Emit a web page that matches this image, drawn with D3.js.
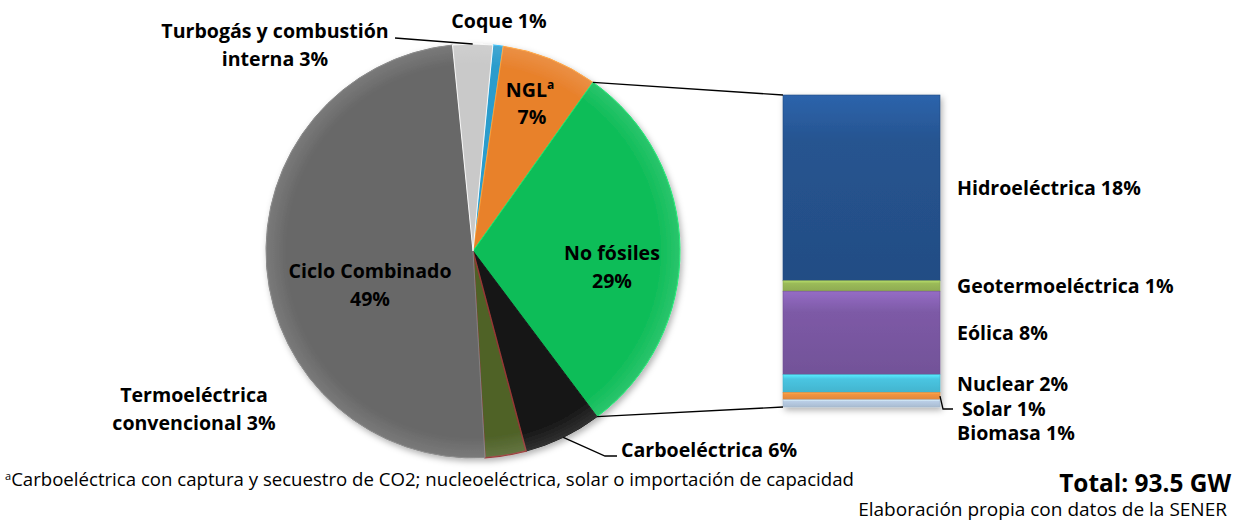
<!DOCTYPE html>
<html>
<head>
<meta charset="utf-8">
<script src="https://cdn.jsdelivr.net/npm/d3@7"></script>
<style>
  body { margin: 0; background: #fff; }
  text { font-family: "Open Sans", Lato, sans-serif; fill: #000; }
  .lbl { font-weight: bold; font-size: 19px; }
</style>
</head>
<body>
<svg id="chart" width="1243" height="525"></svg>
<script>
// Pie slices, clockwise starting at Coque
const pieNames = ['Coque', 'NGL', 'No fósiles', 'Carboeléctrica', 'Termoeléctrica convencional', 'Ciclo Combinado', 'Turbogás y combustión interna'];
const pieValues = [0.8, 7.5, 29.9, 6.1, 3.2, 49.3, 3.1];
const pieLabels = ['1%', '7%', '29%', '6%', '3%', '49%', '3%'];
const pieColors = ['#2b9ccc', '#e8812c', '#0fbd59', '#141414', '#4f6228', '#686868', '#c9c9c9'];

// Breakdown of "No fósiles"
const barNames = ['Hidroeléctrica', 'Geotermoeléctrica', 'Eólica', 'Nuclear', 'Solar', 'Biomasa'];
const barValues = [17.8, 1.0, 8.0, 1.7, 0.7, 0.7];
const barLabels = ['18%', '1%', '8%', '2%', '1%', '1%'];
const barColors = ['#265490', '#9bbb59', '#7d5aa6', '#49c5e1', '#f39442', '#b9cde5'];

const svg = d3.select('#chart');
const defs = svg.append('defs');

// scale a font size so that a sample string gets the width seen in the picture
function fitSize(sample, weight, width) {
  const probe = svg.append('text').style('font-size', '100px').style('font-weight', weight).text(sample);
  const w = probe.node().getComputedTextLength();
  probe.remove();
  return (100 * width) / w;
}
const labelSize = fitSize('Hidroeléctrica 18%', 'bold', 184);
svg.append('style').text(`.lbl { font-size: ${labelSize.toFixed(2)}px; }`);

const shadow = defs.append('filter').attr('id', 'shadow')
  .attr('x', '-10%').attr('y', '-10%').attr('width', '120%').attr('height', '120%');
shadow.append('feDropShadow')
  .attr('dx', 2).attr('dy', 3).attr('stdDeviation', 3)
  .attr('flood-color', '#000').attr('flood-opacity', 0.3);

// Pie
const cx = 473;
const cy = 251;
const radius = 207;
const start = (5.5 * Math.PI) / 180;

const pie = d3.pie().value((d) => d).sort(null)
  .startAngle(start).endAngle(start + 2 * Math.PI);
const arcs = pie(pieValues);
const arc = d3.arc().innerRadius(0).outerRadius(radius);

const pieG = svg.append('g')
  .attr('transform', `translate(${cx},${cy})`)
  .attr('filter', 'url(#shadow)');

pieG.selectAll('path')
  .data(arcs)
  .enter()
  .append('path')
  .attr('d', arc)
  .attr('fill', (d, i) => pieColors[i])
  .attr('stroke', (d, i) => (i === 4 ? '#953735' : d3.color(pieColors[i]).brighter(0.6)))
  .attr('stroke-width', (d, i) => (i === 4 ? 1.5 : 1));

// soft highlight on the pie rim
const glow = defs.append('radialGradient').attr('id', 'glow')
  .attr('cx', '50%').attr('cy', '50%').attr('r', '50%');
glow.append('stop').attr('offset', '0.9').attr('stop-color', '#fff').attr('stop-opacity', 0);
glow.append('stop').attr('offset', '1').attr('stop-color', '#fff').attr('stop-opacity', 0.12);
pieG.append('circle').attr('r', radius).attr('fill', 'url(#glow)');

const edge = (a) => [cx + radius * Math.sin(a), cy - radius * Math.cos(a)];

// Bar
const barX = 783;
const barW = 157;
const y = d3.scaleLinear()
  .domain([0, d3.sum(barValues)])
  .range([95, 407]);
const stacked = barValues.map((v, i) => ({
  name: barNames[i],
  y0: d3.sum(barValues.slice(0, i)),
  y1: d3.sum(barValues.slice(0, i + 1)),
}));

barColors.forEach((c, i) => {
  const g = defs.append('linearGradient').attr('id', `bg${i}`)
    .attr('x1', 0).attr('y1', 0).attr('x2', 0).attr('y2', 1);
  g.append('stop').attr('offset', 0).attr('stop-color', d3.color(c).brighter(0.5));
  g.append('stop').attr('offset', 0.25).attr('stop-color', c);
  g.append('stop').attr('offset', 1).attr('stop-color', d3.color(c).darker(0.25));
});

const barG = svg.append('g').attr('filter', 'url(#shadow)');
barG.selectAll('rect')
  .data(stacked)
  .enter()
  .append('rect')
  .attr('x', barX)
  .attr('width', barW)
  .attr('y', (d) => y(d.y0))
  .attr('height', (d) => y(d.y1) - y(d.y0))
  .attr('fill', (d, i) => `url(#bg${i})`)
  .attr('stroke', (d, i) => d3.color(barColors[i]).darker(0.3))
  .attr('stroke-width', 0.6);

// Connector lines from "No fósiles" to the bar
const green = arcs[2];
const lines = svg.append('g').attr('stroke', '#000').attr('stroke-width', 1.3).attr('fill', 'none');
lines.append('line')
  .attr('x1', edge(green.startAngle)[0]).attr('y1', edge(green.startAngle)[1])
  .attr('x2', barX).attr('y2', y(0));
lines.append('line')
  .attr('x1', edge(green.endAngle)[0]).attr('y1', edge(green.endAngle)[1])
  .attr('x2', barX).attr('y2', y(d3.sum(barValues)));

// Leader lines
const mid = (d) => (d.startAngle + d.endAngle) / 2;
const turbo = edge(mid(arcs[6]));
lines.append('polyline').attr('points', `395,38 ${turbo[0]},${turbo[1]}`);
const carbo = edge(mid(arcs[3]));
lines.append('polyline').attr('points', `${carbo[0]},${carbo[1]} 605,456 617,456`);
const solarMid = (y(stacked[4].y0) + y(stacked[4].y1)) / 2;
lines.append('polyline').attr('points', `${barX + barW},${solarMid} 943,409 953,409`);

// Pie labels
function multiLine(x, baseY, rows, anchor) {
  const t = svg.append('text').attr('class', 'lbl').attr('text-anchor', anchor || 'middle');
  rows.forEach((r, i) => {
    t.append('tspan').attr('x', x).attr('y', baseY + i * 28).text(r);
  });
  return t;
}

multiLine(275, 38, ['Turbogás y combustión', `interna ${pieLabels[6]}`]);
multiLine(499, 28, [`${pieNames[0]} ${pieLabels[0]}`]);
const ngl = svg.append('text').attr('class', 'lbl').attr('text-anchor', 'middle')
  .attr('x', 530).attr('y', 97);
ngl.append('tspan').text(pieNames[1]);
ngl.append('tspan').attr('dy', -8).style('font-size', '12px').text('a');
multiLine(532, 124, [pieLabels[1]]);
multiLine(612, 260, [pieNames[2], pieLabels[2]]);
multiLine(370, 278, [pieNames[5], pieLabels[5]]);
multiLine(194, 402, ['Termoeléctrica', `convencional ${pieLabels[4]}`]);
multiLine(621, 457, [`${pieNames[3]} ${pieLabels[3]}`], 'start');

// Bar labels
const barLabelY = stacked.map((d) => (y(d.y0) + y(d.y1)) / 2 + 7);
barLabelY[4] = 416;
barLabelY[5] = 440;
stacked.forEach((d, i) => {
  svg.append('text').attr('class', 'lbl')
    .attr('x', i === 4 ? 962 : 957)
    .attr('y', barLabelY[i])
    .text(`${d.name} ${barLabels[i]}`);
});

// Notes
const noteText = 'Carboeléctrica con captura y secuestro de CO2; nucleoeléctrica, solar o importación de capacidad';
const noteSize = fitSize(noteText, 'normal', 843);
const note = svg.append('text').attr('x', 5).attr('y', 486).style('font-size', `${noteSize}px`);
note.append('tspan').attr('dy', -6).style('font-size', '11px').text('a');
note.append('tspan').attr('dy', 6).text(noteText);

const totalText = 'Total: 93.5 GW';
svg.append('text').attr('x', 1231).attr('y', 492).attr('text-anchor', 'end')
  .style('font-size', `${fitSize(totalText, 'bold', 172)}px`).style('font-weight', 'bold')
  .text(totalText);
const srcText = 'Elaboración propia con datos de la SENER';
svg.append('text').attr('x', 1227).attr('y', 516).attr('text-anchor', 'end')
  .style('font-size', `${fitSize(srcText, 'normal', 369)}px`)
  .text(srcText);
</script>
</body>
</html>
